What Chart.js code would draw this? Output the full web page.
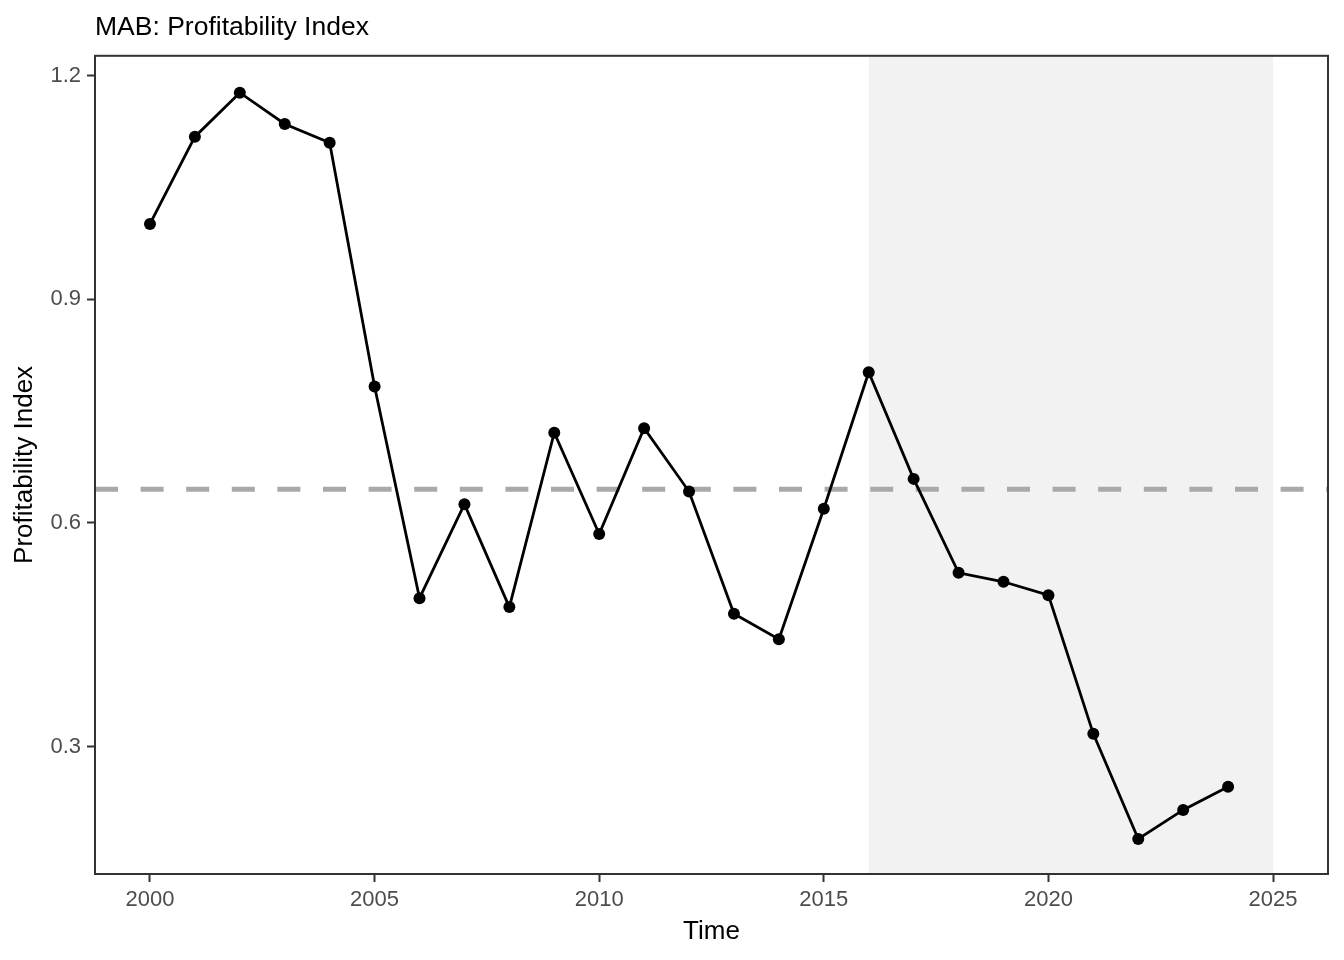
<!DOCTYPE html>
<html>
<head>
<meta charset="utf-8">
<title>MAB: Profitability Index</title>
<script src="https://cdn.jsdelivr.net/npm/chart.js@4/dist/chart.umd.min.js"></script>
<style>
  html, body { margin: 0; padding: 0; background: #fff; }
  #wrap { width: 1344px; height: 960px; }
</style>
</head>
<body>
<div id="wrap"><canvas id="grafico"></canvas></div>
<script>
// datos
const years = [2000, 2001, 2002, 2003, 2004, 2005, 2006, 2007, 2008, 2009, 2010, 2011, 2012,
               2013, 2014, 2015, 2016, 2017, 2018, 2019, 2020, 2021, 2022, 2023, 2024];
const profitIndex = [1.001, 1.118, 1.177, 1.135, 1.110, 0.783, 0.499, 0.625, 0.487, 0.721, 0.585, 0.727, 0.642,
                     0.478, 0.444, 0.619, 0.802, 0.659, 0.533, 0.521, 0.503, 0.317, 0.176, 0.215, 0.246];
const meanValue = 0.645;
const shadeYears = [2016, 2025];
const xTicks = [2000, 2005, 2010, 2015, 2020, 2025];
const yTicks = [0.3, 0.6, 0.9, 1.2];
const xLimits = [1998.776, 2026.224];
const yLimits = [0.129, 1.2265];

const fuente = "'Liberation Sans', Arial, Helvetica, sans-serif";

// rectangulo gris y borde del panel
const panelPlugin = {
    id: 'panel',
    beforeDatasetsDraw(chart) {
        const { ctx, chartArea, scales } = chart;
        const x0 = scales.x.getPixelForValue(shadeYears[0]);
        const x1 = scales.x.getPixelForValue(shadeYears[1]);
        ctx.save();
        ctx.fillStyle = '#f2f2f2';
        ctx.fillRect(x0, chartArea.top, x1 - x0, chartArea.bottom - chartArea.top);
        ctx.restore();
    },
    afterDatasetsDraw(chart) {
        const { ctx, chartArea } = chart;
        ctx.save();
        ctx.strokeStyle = '#333333';
        ctx.lineWidth = 2;
        ctx.strokeRect(chartArea.left, chartArea.top, chartArea.right - chartArea.left, chartArea.bottom - chartArea.top);
        ctx.restore();
    }
};

const ctx = document.getElementById('grafico').getContext('2d');
const grafico = new Chart(ctx, {
    type: 'line',
    data: {
        datasets: [{
            label: 'Profitability Index',
            data: years.map((y, i) => ({ x: y, y: profitIndex[i] })),
            borderColor: '#000000',
            backgroundColor: '#000000',
            borderWidth: 2.8,
            pointRadius: 6,
            pointBorderWidth: 0,
            pointBackgroundColor: '#000000',
            tension: 0,
            order: 0
        }, {
            label: 'Mean',
            data: [{ x: xLimits[0], y: meanValue }, { x: xLimits[1], y: meanValue }],
            borderColor: '#a9a9a9',
            borderWidth: 5,
            borderDash: [23, 22.6],
            pointRadius: 0,
            order: 1
        }]
    },
    options: {
        responsive: true,
        maintainAspectRatio: false,
        animation: false,
        layout: { padding: { left: 0, right: 16, top: 0, bottom: 0 } },
        plugins: {
            legend: { display: false },
            tooltip: { enabled: false },
            title: {
                display: true,
                text: 'MAB: Profitability Index',
                align: 'start',
                fullSize: false,
                color: '#000000',
                font: { family: fuente, size: 26.5, weight: 'normal' },
                padding: { top: 11.5, bottom: 12.5 }
            }
        },
        scales: {
            x: {
                type: 'linear',
                min: xLimits[0],
                max: xLimits[1],
                afterBuildTicks: (scale) => { scale.ticks = xTicks.map(v => ({ value: v })); },
                afterFit: (scale) => { scale.height = 86; },
                ticks: {
                    color: '#4d4d4d',
                    font: { family: fuente, size: 22 },
                    padding: 5,
                    maxRotation: 0,
                    callback: (v) => String(v)
                },
                grid: { drawOnChartArea: false, drawTicks: true, tickLength: 8, tickWidth: 2, color: '#333333' },
                border: { display: false },
                title: {
                    display: true,
                    text: 'Time',
                    color: '#000000',
                    font: { family: fuente, size: 26 },
                    padding: { top: 0, bottom: 12.5 }
                }
            },
            y: {
                type: 'linear',
                min: yLimits[0],
                max: yLimits[1],
                afterBuildTicks: (scale) => { scale.ticks = yTicks.map(v => ({ value: v })); },
                afterFit: (scale) => { scale.width = 95; },
                ticks: {
                    color: '#4d4d4d',
                    font: { family: fuente, size: 22 },
                    padding: 6,
                    callback: (v) => v.toFixed(1)
                },
                grid: { drawOnChartArea: false, drawTicks: true, tickLength: 8, tickWidth: 2, color: '#333333' },
                border: { display: false },
                title: {
                    display: true,
                    text: 'Profitability Index',
                    color: '#000000',
                    font: { family: fuente, size: 26 },
                    padding: { top: 9.5, bottom: 0 }
                }
            }
        }
    },
    plugins: [panelPlugin]
});
</script>
</body>
</html>
